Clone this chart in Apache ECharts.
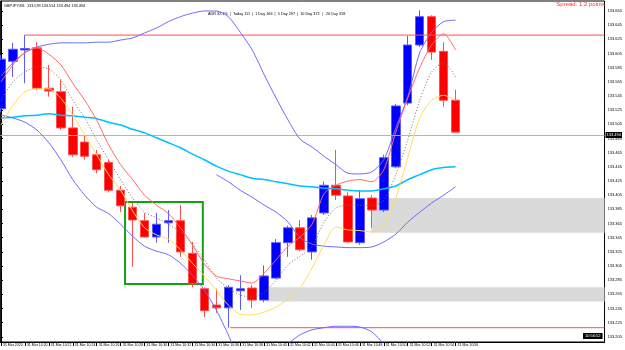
<!DOCTYPE html>
<html>
<head>
<meta charset="utf-8">
<script src="https://cdn.jsdelivr.net/npm/echarts@6/dist/echarts.min.js"></script>
<style>
  html, body { margin: 0; padding: 0; background: #fff; }
  #chart { width: 625px; height: 350px; }
</style>
</head>
<body>
<div id="chart"></div>
<script>
// GBPJPY M1, 31 Mar 2020 10:18 - 10:56
const xLabels = ['31 Mar 2020', '31 Mar 10:20', '31 Mar 10:22', '31 Mar 10:24', '31 Mar 10:26',
  '31 Mar 10:28', '31 Mar 10:30', '31 Mar 10:32', '31 Mar 10:34', '31 Mar 10:36', '31 Mar 10:38',
  '31 Mar 10:40', '31 Mar 10:42', '31 Mar 10:44', '31 Mar 10:46', '31 Mar 10:48', '31 Mar 10:50',
  '31 Mar 10:52', '31 Mar 10:54', '31 Mar 10:56'];

const yTicks = [133.205, 133.225, 133.245, 133.265, 133.285, 133.305, 133.325, 133.345,
  133.365, 133.385, 133.405, 133.425, 133.445, 133.465, 133.485, 133.505, 133.525, 133.545,
  133.565, 133.585, 133.605, 133.625, 133.645, 133.665];

const opens = [133.527, 133.594, 133.610, 133.613, 133.556, 133.551, 133.500, 133.480, 133.462, 133.451,
  133.412, 133.388, 133.369, 133.346, 133.366, 133.369, 133.323, 133.273, 133.250, 133.246,
  133.270, 133.274, 133.257, 133.288, 133.338, 133.359, 133.325, 133.380, 133.419, 133.404,
  133.338, 133.401, 133.384, 133.445, 133.535, 133.617, 133.657, 133.608, 133.539];
const closes = [133.597, 133.611, 133.612, 133.556, 133.552, 133.500, 133.462, 133.460, 133.441, 133.412,
  133.390, 133.370, 133.346, 133.364, 133.369, 133.325, 133.280, 133.242, 133.246, 133.275,
  133.273, 133.257, 133.291, 133.338, 133.359, 133.328, 133.373, 133.419, 133.405, 133.339,
  133.400, 133.384, 133.458, 133.531, 133.617, 133.657, 133.607, 133.539, 133.494];
const lows = [133.522, 133.572, 133.563, 133.553, 133.544, 133.497, 133.459, 133.455, 133.436, 133.409,
  133.381, 133.304, 133.345, 133.338, 133.338, 133.318, 133.275, 133.233, 133.239, 133.218,
  133.243, 133.246, 133.254, 133.287, 133.318, 133.326, 133.314, 133.377, 133.398, 133.338,
  133.335, 133.359, 133.381, 133.443, 133.532, 133.614, 133.596, 133.530, 133.494];
const highs = [133.603, 133.620, 133.631, 133.621, 133.589, 133.568, 133.530, 133.490, 133.469, 133.455,
  133.418, 133.394, 133.380, 133.380, 133.384, 133.391, 133.339, 133.275, 133.273, 133.278,
  133.292, 133.278, 133.306, 133.343, 133.362, 133.370, 133.377, 133.424, 133.469, 133.409,
  133.412, 133.405, 133.462, 133.534, 133.630, 133.666, 133.659, 133.621, 133.554];

// indicators
const maFast = [133.565, 133.589, 133.607, 133.613, 133.604, 133.589, 133.563, 133.539, 133.511, 133.476,
  133.448, 133.427, 133.405, 133.391, 133.379, 133.359, 133.335, 133.308, 133.291, 133.287,
  133.284, 133.281, 133.295, 133.314, 133.333, 133.346, 133.364, 133.407, 133.419, 133.425,
  133.427, 133.424, 133.441, 133.494, 133.542, 133.585, 133.617, 133.633, 133.610];
const maMid = [133.539, 133.565, 133.579, 133.586, 133.583, 133.568, 133.539, 133.514, 133.483, 133.455,
  133.427, 133.401, 133.381, 133.373, 133.364, 133.353, 133.336, 133.314, 133.288, 133.274,
  133.264, 133.261, 133.268, 133.285, 133.307, 133.319, 133.332, 133.367, 133.387, 133.391,
  133.391, 133.390, 133.398, 133.434, 133.483, 133.539, 133.579, 133.592, 133.572];
const maSlow = [133.504, 133.532, 133.551, 133.555, 133.555, 133.542, 133.518, 133.490, 133.462, 133.434,
  133.412, 133.383, 133.359, 133.349, 133.343, 133.328, 133.309, 133.291, 133.271, 133.250,
  133.237, 133.236, 133.240, 133.247, 133.259, 133.274, 133.302, 133.335, 133.360, 133.356,
  133.355, 133.353, 133.363, 133.401, 133.458, 133.514, 133.539, 133.546, 133.539];
const maLong = [133.514, 133.515, 133.517, 133.518, 133.520, 133.518, 133.517, 133.515, 133.513, 133.508,
  133.504, 133.498, 133.493, 133.486, 133.479, 133.472, 133.463, 133.455, 133.446, 133.439,
  133.434, 133.429, 133.427, 133.424, 133.421, 133.418, 133.417, 133.415, 133.414, 133.412,
  133.411, 133.411, 133.414, 133.418, 133.427, 133.434, 133.441, 133.444, 133.445];
const bandUp = [133.573, 133.592, 133.606, 133.614, 133.618, 133.620, 133.620, 133.620, 133.621, 133.621,
  133.624, 133.627, 133.634, 133.641, 133.650, 133.657, 133.662, 133.665, 133.665, 133.657,
  133.635, 133.610, 133.575, 133.542, 133.511, 133.484, 133.473, 133.460, 133.448, 133.436,
  133.435, 133.438, 133.455, 133.500, 133.544, 133.606, 133.635, 133.650, 133.652];
const bandLow = [133.518, 133.514, 133.508, 133.497, 133.479, 133.455, 133.427, 133.405, 133.388, 133.379,
  133.364, 133.347, 133.333, 133.326, 133.321, 133.309, 133.292, 133.271, 133.243, 133.208,
  133.172, 133.165, 133.172, 133.187, 133.196, 133.208, 133.215, 133.218, 133.220, 133.220,
  133.219, 133.212, 133.194, 133.158, 133.116, 133.074, 133.060, 133.052, 133.052];
const bandLow2 = [null, null, null, null, null, null, null, null, null, null,
  null, null, null, null, null, null, null, null, 133.434, 133.424,
  133.412, 133.402, 133.391, 133.381, 133.367, 133.345, 133.336, 133.333, 133.332, 133.331,
  133.331, 133.332, 133.339, 133.350, 133.367, 133.381, 133.394, 133.405, 133.417];

// levels: [start index, price]
const levelHigh = [2, 133.631];
const levelLow = [19.15, 133.218];
const bidPrice = 133.494;
// supply / demand zones: [start index, top price, bottom price]
const zones = [[30.95, 133.401, 133.352], [22.28, 133.275, 133.255]];
const boxArea = [10.37, 133.3955, 16.87, 133.2797];

const xMin = -0.05;
const xMax = xMin + 606 / 12;
const yMin = 133.1978;
const yMax = 133.6791;
const FONT = 'Liberation Sans';

const chart = echarts.init(document.getElementById('chart'));

function lineSeries(values, color, width, type) {
  return {
    type: 'line',
    data: values.map((v, i) => [i, v]),
    symbol: 'none',
    smooth: 0.25,
    silent: true,
    z: 6,
    connectNulls: false,
    lineStyle: { color: color, width: width, type: type || 'solid' }
  };
}

const labelIdx = xLabels.map((_, k) => k * 2);
const candleData = opens.map((o, i) => [i, o, closes[i], lows[i], highs[i]]);
const last = candleData.length - 1;
const header = 'GBPJPY,M1  ' + [opens[last], highs[last], lows[last], closes[last]].map(v => v.toFixed(3)).join(' ');

var option = {
  animation: false,
  backgroundColor: '#ffffff',
  grid: {
    left: 0, right: 19, top: 1, bottom: 8,
    show: true, borderColor: '#000', borderWidth: 1
  },
  xAxis: {
    type: 'value',
    min: xMin,
    max: xMax,
    splitLine: { show: false },
    axisLine: { show: true, onZero: false, lineStyle: { color: '#000', width: 1 } },
    axisTick: { show: true, customValues: labelIdx, length: 4, lineStyle: { color: '#000' } },
    axisLabel: {
      customValues: labelIdx,
      formatter: v => xLabels[Math.round(v / 2)],
      align: 'left',
      margin: 1,
      padding: [0, 0, 0, 2],
      fontSize: 3.5,
      color: '#000',
      fontFamily: FONT
    }
  },
  yAxis: {
    type: 'value',
    position: 'right',
    min: yMin,
    max: yMax,
    scale: true,
    splitLine: { show: false },
    axisLine: { show: true, lineStyle: { color: '#000', width: 1 } },
    axisTick: { show: true, customValues: yTicks, length: 2, lineStyle: { color: '#000' } },
    axisLabel: {
      customValues: yTicks,
      formatter: v => v.toFixed(3),
      margin: 3,
      fontSize: 4,
      color: '#000',
      fontFamily: FONT
    }
  },
  graphic: [
    { type: 'text', left: 4, top: 4, style: { text: header, fontSize: 3.8, fill: '#000', fontFamily: FONT } },
    { type: 'text', left: 208, top: 12, style: { text: 'ADR 32.1%  |  Today 111  |  1 Day 166  |  5 Day 297  |  10 Day 372  |   20 Day 318', fontSize: 3.8, fill: '#000', fontFamily: FONT } },
    { type: 'text', right: 20, top: 1, style: { text: 'Spread: 1.2 points', fontSize: 6, fill: '#ff3030', fontFamily: FONT } },
    { type: 'text', left: 583, top: 333, style: { text: '10:56:52', fontSize: 4, fill: '#fff', backgroundColor: '#000', padding: [1, 2], fontFamily: FONT } }
  ],
  series: [
    {
      // zones and bid line
      type: 'line',
      data: [],
      z: 1,
      silent: true,
      markArea: {
        silent: true,
        itemStyle: { color: '#dadada' },
        data: zones.map(z => [{ xAxis: z[0], yAxis: z[1] }, { xAxis: xMax, yAxis: z[2] }])
      },
      markLine: {
        silent: true,
        symbol: ['none', 'none'],
        lineStyle: { color: '#b4b4b4', width: 1, type: 'solid' },
        label: {
          position: 'end', distance: 1,
          formatter: bidPrice.toFixed(3),
          color: '#fff', backgroundColor: '#000', padding: [1, 1],
          fontSize: 4, fontFamily: FONT
        },
        data: [{ yAxis: bidPrice }]
      }
    },
    {
      type: 'candlestick',
      data: candleData,
      encode: { x: 0, y: [1, 2, 3, 4] },
      barWidth: 9,
      z: 4,
      silent: true,
      itemStyle: {
        color: '#0000ff', color0: '#ff0000',
        borderColor: '#5a5aff', borderColor0: '#ff5050', borderWidth: 1
      }
    },
    lineSeries(maLong, '#00bfff', 1.5),
    lineSeries(bandUp, '#6a6aff', 1),
    lineSeries(bandLow, '#6a6aff', 1),
    lineSeries(bandLow2, '#6a6aff', 1),
    lineSeries(maSlow, '#ffdd55', 1),
    lineSeries(maMid, '#707070', 1, [1, 2]),
    lineSeries(maFast, '#ff6a6a', 1),
    {
      type: 'line', symbol: 'none', silent: true, z: 5,
      data: [[levelHigh[0], levelHigh[1]], [xMax, levelHigh[1]]],
      lineStyle: { color: '#ff5050', width: 1 }
    },
    {
      type: 'line', symbol: 'none', silent: true, z: 5,
      data: [[levelLow[0], levelLow[1]], [xMax, levelLow[1]]],
      lineStyle: { color: '#ff5050', width: 1 }
    },
    {
      type: 'line',
      data: [],
      z: 8,
      silent: true,
      markArea: {
        silent: true,
        itemStyle: { color: 'rgba(0,0,0,0)', borderColor: '#14a014', borderWidth: 2 },
        data: [[{ xAxis: boxArea[0], yAxis: boxArea[1] }, { xAxis: boxArea[2], yAxis: boxArea[3] }]]
      }
    }
  ]
};

chart.setOption(option);
</script>
</body>
</html>
